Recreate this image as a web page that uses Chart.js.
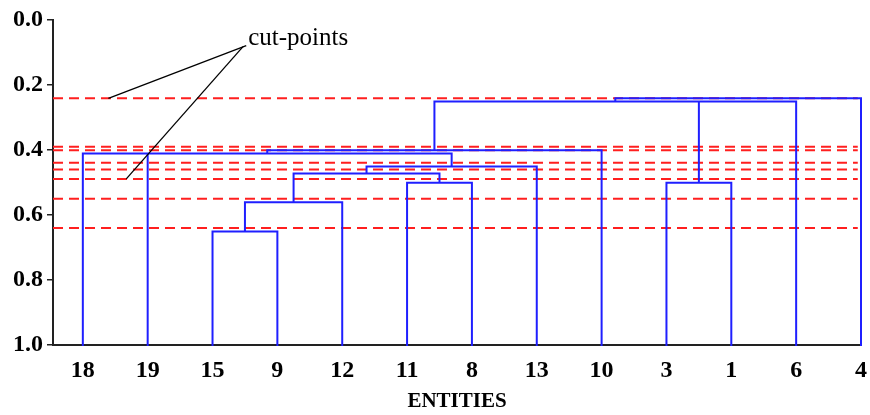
<!DOCTYPE html>
<html>
<head>
<meta charset="utf-8">
<script src="https://cdn.jsdelivr.net/npm/chart.js@4"></script>
<style>
  html, body { margin: 0; padding: 0; background: #fff; }
  #wrap { width: 870px; height: 415px; }
</style>
</head>
<body>
<div id="wrap"><canvas id="c" width="870" height="415"></canvas></div>
<script>
// ---- data ----
const leaves = ['18', '19', '15', '9', '12', '11', '8', '13', '10', '3', '1', '6', '4'];
const leafHeight = 1.0;
// merge nodes (m0..m9): height and children (leaf labels or earlier merge ids)
const mergeHeights = [0.651, 0.561, 0.501, 0.472, 0.451, 0.411, 0.401, 0.501, 0.251, 0.241];
const mergeChildren = [
  ['15', '9'],
  ['m0', '12'],
  ['11', '8'],
  ['m1', 'm2'],
  ['m3', '13'],
  ['18', '19', 'm4'],
  ['m5', '10'],
  ['3', '1'],
  ['m6', 'm7', '6'],
  ['m8', '4']
];
const cutPoints = [0.241, 0.390, 0.401, 0.439, 0.460, 0.489, 0.550, 0.640];
const yTicks = [0.0, 0.2, 0.4, 0.6, 0.8, 1.0];
const xRange = [-0.46, 12];
const cutLineEnd = 11.95;
const annotationText = 'cut-points';
const annotationAnchor = [2.55, 0.077];          // [leaf index, height] of text start (baseline)
const annotationLines = [[2.52, 0.079, 0.394, 0.241], [2.47, 0.082, 0.67, 0.489]];
const xTitle = 'ENTITIES';

// ---- build dendrogram segments from the tree ----
const nodePos = {};
leaves.forEach((l, i) => { nodePos[l] = { x: i, h: leafHeight }; });
const dendroPts = [];
const gap = { x: null, y: null };
mergeHeights.forEach((h, k) => {
  const kids = mergeChildren[k].map(c => nodePos[c]);
  const first = kids[0], last = kids[kids.length - 1];
  dendroPts.push({ x: first.x, y: first.h }, { x: first.x, y: h },
                 { x: last.x, y: h }, { x: last.x, y: last.h }, gap);
  kids.slice(1, -1).forEach(c => { dendroPts.push({ x: c.x, y: c.h }, { x: c.x, y: h }, gap); });
  nodePos['m' + k] = { x: (first.x + last.x) / 2, h: h };
});

const cutPts = [];
cutPoints.forEach(v => { cutPts.push({ x: xRange[0], y: v }, { x: cutLineEnd, y: v }, gap); });

const annotationPlugin = {
  id: 'cutAnnot',
  afterDatasetsDraw(chart) {
    const { ctx, scales: { x, y } } = chart;
    ctx.save();
    ctx.strokeStyle = '#000';
    ctx.lineWidth = 1.3;
    annotationLines.forEach(([x1, y1, x2, y2]) => {
      ctx.beginPath();
      ctx.moveTo(x.getPixelForValue(x1), y.getPixelForValue(y1));
      ctx.lineTo(x.getPixelForValue(x2), y.getPixelForValue(y2));
      ctx.stroke();
    });
    ctx.fillStyle = '#000';
    ctx.font = '25px "Liberation Serif", "Times New Roman", serif';
    ctx.textAlign = 'left';
    ctx.textBaseline = 'alphabetic';
    ctx.fillText(annotationText, x.getPixelForValue(annotationAnchor[0]), y.getPixelForValue(annotationAnchor[1]));
    ctx.restore();
  }
};

const tickFont = { family: '"Liberation Serif", "Times New Roman", serif', size: 24, weight: 'bold' };

new Chart(document.getElementById('c'), {
  type: 'scatter',
  data: {
    datasets: [
      {
        data: cutPts, showLine: true, spanGaps: false, clip: false,
        borderColor: '#ff1f1f', borderWidth: 2, borderDash: [10, 6],
        pointRadius: 0, order: 2
      },
      {
        data: dendroPts, showLine: true, spanGaps: false, clip: false,
        borderColor: '#1f1fff', borderWidth: 2, borderCapStyle: 'square', borderJoinStyle: 'miter',
        pointRadius: 0, order: 1
      }
    ]
  },
  options: {
    responsive: false,
    animation: false,
    devicePixelRatio: 1,
    layout: { padding: { top: 20, right: 0, bottom: 0, left: 0 } },
    plugins: { legend: { display: false }, tooltip: { enabled: false } },
    scales: {
      x: {
        type: 'linear', min: xRange[0], max: xRange[1],
        afterBuildTicks: s => { s.ticks = leaves.map((l, i) => ({ value: i })); },
        afterFit: s => { s.height = 70; },
        grid: { display: false },
        border: { display: true, color: '#222', width: 2 },
        ticks: {
          autoSkip: false, maxRotation: 0, padding: 3, color: '#000', font: tickFont,
          callback: v => leaves[v]
        },
        title: {
          display: true, text: xTitle, color: '#000',
          font: { family: '"Liberation Serif", "Times New Roman", serif', size: 21, weight: 'bold' },
          padding: { top: 0, bottom: 1 }
        }
      },
      y: {
        type: 'linear', min: 0, max: 1, reverse: true,
        afterBuildTicks: s => { s.ticks = yTicks.map(v => ({ value: v })); },
        afterFit: s => { s.width = 53; },
        grid: { display: true, drawOnChartArea: false, drawTicks: true, tickLength: 6, tickColor: '#222', lineWidth: 1.5 },
        border: { display: true, color: '#222', width: 2 },
        ticks: { padding: 4, color: '#000', font: tickFont, callback: v => v.toFixed(1) }
      }
    }
  },
  plugins: [annotationPlugin]
});
</script>
</body>
</html>
